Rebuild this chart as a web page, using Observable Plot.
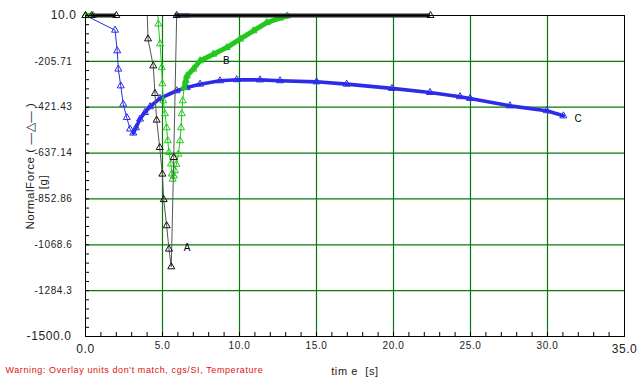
<!DOCTYPE html>
<html><head><meta charset="utf-8">
<script src="https://cdn.jsdelivr.net/npm/d3@7"></script>
<script src="https://cdn.jsdelivr.net/npm/@observablehq/plot@0.6"></script>
<style>html,body{margin:0;padding:0;background:#fff}svg{display:block}</style>
</head><body><div id="chart"></div>
<script>
// ---- tick values and labels ----
const yTickValues = [10, -205.71, -421.43, -637.14, -852.86, -1068.6, -1284.3, -1500];
const yTickLabels = ["10.0", "-205.71", "-421.43", "-637.14", "-852.86", "-1068.6", "-1284.3", "-1500.0"];
const xTickValues = [0, 5, 10, 15, 20, 25, 30, 35];
const xTickLabels = ["0.0", "5.0", "10.0", "15.0", "20.0", "25.0", "30.0", "35.0"];

// ---- series (time [s], normal force [g]) ----
const seriesA = [
  [0, 10], [0.4, 10], [2.0, 10], [3.95, 150],
  [4.06, -100], [4.40, -227], [4.51, -357], [4.62, -482], [4.82, -611], [4.99, -736],
  [5.08, -856], [5.27, -979], [5.42, -1089], [5.57, -1172],
  [5.73, -658], [5.92, 10], [22.4, 10]
];
const seriesB = [
  [0, 10], [0.5, 10], [4.6, 150],
  [4.73, -30], [4.84, -123], [4.95, -235], [4.99, -311], [5.05, -391], [5.16, -452],
  [5.27, -518], [5.34, -579], [5.42, -634], [5.55, -688], [5.60, -735], [5.66, -760],
  [5.74, -745], [5.81, -720], [5.90, -690], [6.03, -642], [6.14, -579], [6.20, -518],
  [6.25, -452], [6.31, -391], [6.40, -329], [6.51, -297], [6.59, -274], [7.0, -242],
  [7.44, -203], [8.30, -172], [9.17, -141], [10.03, -101], [10.90, -62], [11.77, -23],
  [12.63, -2], [13.1, 8]
];
const seriesC = [
  [0, 10], [1.92, -59], [2.06, -156], [2.13, -242], [2.29, -321], [2.45, -407],
  [2.68, -470], [2.89, -524], [3.10, -543], [3.28, -518], [3.54, -477], [3.86, -446],
  [4.19, -419], [4.84, -380], [5.92, -344], [6.57, -329], [7.44, -313], [8.73, -297],
  [9.82, -292], [11.33, -293], [12.63, -297], [15.01, -302], [16.96, -313], [19.90, -333],
  [22.37, -352], [24.32, -372], [24.97, -380], [27.56, -415], [29.95, -438], [31.03, -462]
];
// time ranges where markers are packed into a solid band
const denseA = [[0.4, 2.0], [5.92, 22.4]];
const denseB = [[6.4, 13.1]];
const denseC = [[3.1, 31.03]];
const topC = [[5.8, 6.8]];
const topB = [[0, 0.5]];

const seriesLabels = ["A", "B", "C"];

// ---- layout ----
const W = 638, H = 390;
const mL = 85, mR = 14, mT = 15, mB = 54;
const xDom = [0, 35], yDom = [-1500, 10];
const uX = (xDom[1] - xDom[0]) / (W - mL - mR);
const uY = (yDom[1] - yDom[0]) / (H - mT - mB);

const gridGreen = "#077a07";
const colA = "#111", colALine = "#555";
const colB = "#22c81e";
const colC = "#2c2ce8";

const toObj = s => s.map(([t, f]) => ({t, f}));
const A = toObj(seriesA), B = toObj(seriesB), C = toObj(seriesC);
const inDom = d => d.f <= yDom[1] + 1e-9;
const inRanges = (rs) => d => rs.some(([a, b]) => d.t >= a - 1e-9 && d.t <= b + 1e-9);

const xMinor = d3.range(1, 35);
const yMinor = d3.range(1, 35).map(k => yDom[1] - k * (yDom[1] - yDom[0]) / 35);

const innerX = xTickValues.map((v, i) => ({v, l: xTickLabels[i]})).slice(1, -1);
const endX = xTickValues.map((v, i) => ({v, l: xTickLabels[i]})).filter((d, i) => i === 0 || i === xTickValues.length - 1);
const yT = yTickValues.map((v, i) => ({v, l: yTickLabels[i]}));

const band = (ranges, y) => ranges.map(([a, b]) => ({x1: a, x2: b, y}));

const chart = Plot.plot({
  width: W, height: H,
  marginLeft: mL, marginRight: mR, marginTop: mT, marginBottom: mB,
  x: {domain: xDom, axis: null},
  y: {domain: yDom, axis: null},
  style: {fontFamily: "Liberation Sans, Arial, sans-serif", background: "#fff"},
  marks: [
    // grid
    Plot.ruleX(xTickValues.slice(1, -1), {stroke: gridGreen, strokeWidth: 1.2}),
    Plot.ruleY(yTickValues.slice(1, -1), {stroke: gridGreen, strokeWidth: 1.2}),
    // minor ticks (pointing inward)
    Plot.ruleX(xMinor, {y1: yDom[0], y2: yDom[0] + 4 * uY, stroke: "#000"}),
    Plot.ruleY(yMinor, {x1: xDom[0], x2: xDom[0] + 4 * uX, stroke: "#000"}),
    // series C (blue)
    Plot.line(C, {x: "t", y: "f", stroke: colC, strokeWidth: 1, clip: true}),
    Plot.line(C.filter(inRanges(denseC)), {x: "t", y: "f", stroke: colC, strokeWidth: 3.6}),
    Plot.ruleY(band(topC, yDom[1]), {x1: "x1", x2: "x2", y: "y", stroke: colC, strokeWidth: 4}),
    Plot.dot(C.filter(inDom), {x: "t", y: "f", symbol: "triangle", r: 2.6, stroke: colC, strokeWidth: 1, fill: "none"}),
    // series B (green)
    Plot.line(B, {x: "t", y: "f", stroke: colB, strokeWidth: 1, clip: true}),
    Plot.line(B.filter(inRanges(denseB)), {x: "t", y: "f", stroke: colB, strokeWidth: 5}),
    Plot.ruleY(band(topB, yDom[1]), {x1: "x1", x2: "x2", y: "y", stroke: colB, strokeWidth: 5}),
    Plot.dot(B.filter(inDom), {x: "t", y: "f", symbol: "triangle", r: 2.6, stroke: colB, strokeWidth: 1, fill: "none"}),
    // series A (black)
    Plot.line(A, {x: "t", y: "f", stroke: colALine, strokeWidth: 1, clip: true}),
    Plot.ruleY(band(denseA, yDom[1]), {x1: "x1", x2: "x2", y: "y", stroke: "#222", strokeWidth: 4}),
    Plot.dot(A.filter(inDom), {x: "t", y: "f", symbol: "triangle", r: 2.6, stroke: colA, strokeWidth: 1, fill: "none"}),
    // frame
    Plot.frame({stroke: "#000", strokeWidth: 1}),
    // series labels, anchored to series points
    Plot.text([A[13]], {x: "t", y: "f", text: () => seriesLabels[0], dx: 16, dy: -19, fontSize: 10, fill: "#000"}),
    Plot.text([B[29]], {x: "t", y: "f", text: () => seriesLabels[1], dx: 0, dy: 13, fontSize: 10, fill: "#000"}),
    Plot.text([C[C.length - 1]], {x: "t", y: "f", text: () => seriesLabels[2], dx: 15, dy: 3, fontSize: 10, fill: "#000"}),
    // x tick labels
    Plot.text(innerX, {x: "v", text: "l", frameAnchor: "bottom", dy: 12, fontSize: 10, fill: "#222"}),
    Plot.text(endX, {x: "v", text: "l", frameAnchor: "bottom", dy: 16, fontSize: 12, fill: "#222"}),
    // y tick labels
    Plot.text(yT.slice(1, -1), {y: "v", text: "l", frameAnchor: "left", dx: -13, textAnchor: "end", fontSize: 10, fill: "#222"}),
    Plot.text([yT[0]], {y: "v", text: "l", frameAnchor: "left", dx: -9, textAnchor: "end", fontSize: 12, fill: "#222"}),
    Plot.text([yT[yT.length - 1]], {y: "v", text: "l", frameAnchor: "left", dx: -14, textAnchor: "end", fontSize: 12, fill: "#222"}),
    // axis titles
    Plot.text(["NormalForce ( —△— )"], {frameAnchor: "left", textAnchor: "middle", dx: -55, dy: -10, rotate: -90, fontSize: 11.5, fill: "#222"}),
    Plot.text(["[g]"], {frameAnchor: "left", textAnchor: "middle", dx: -42, dy: 6, rotate: -90, fontSize: 11.5, fill: "#222"}),
    Plot.text(["tim e  [s]"], {frameAnchor: "bottom", dy: 38, fontSize: 11, fill: "#222"}),
    Plot.text(["Warning: Overlay units don't match, cgs/SI, Temperature"], {frameAnchor: "bottom-left", dx: -80, dy: 36, textAnchor: "start", fontSize: 9, fill: "#e01010"})
  ]
});
d3.select(chart).selectAll("text").style("letter-spacing", "0.6px");
document.getElementById("chart").appendChild(chart);
</script>
</body></html>
